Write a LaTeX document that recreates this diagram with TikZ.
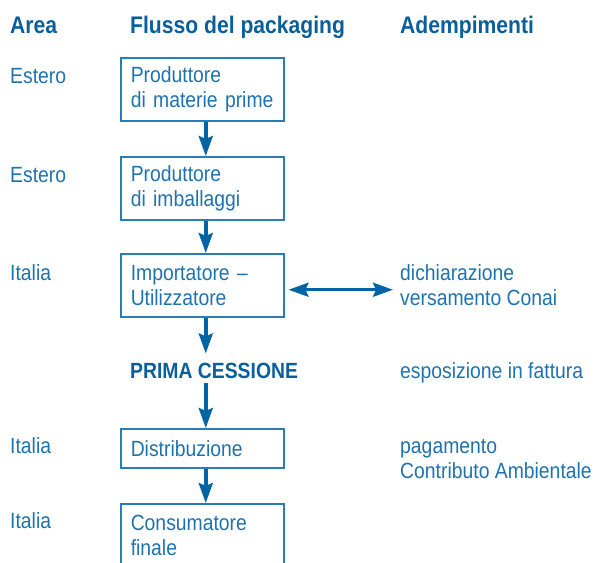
\documentclass[tikz,border=0pt]{standalone}
\usepackage{fontspec}
\setmainfont{Liberation Sans}[FakeStretch=0.88]
\usetikzlibrary{arrows.meta,positioning}

\definecolor{txtblue}{RGB}{30,115,175}
\definecolor{hdblue}{RGB}{10,95,155}
\definecolor{arrblue}{RGB}{0,100,165}
\definecolor{boxblue}{RGB}{40,125,185}

\tikzset{
	flowtip/.tip={Stealth[length=20pt,width=14pt,inset=3pt]},
	box/.style={draw=boxblue, line width=1.5pt, text=txtblue, text width=143pt, inner xsep=10pt,
		minimum height=63pt, align=left, anchor=north west},
	lbl/.style={anchor=base west, inner sep=0pt, text=txtblue, align=left},
	head/.style={anchor=base west, inner sep=0pt, text=hdblue, font=\bfseries\fontsize{24}{28}\selectfont},
	flow/.style={-flowtip, line width=3.5pt, draw=arrblue},
	both/.style={flowtip-flowtip, line width=3pt, draw=arrblue},
}

\begin{document}
\begin{tikzpicture}[x=1pt, y=-1pt, every node/.style={font=\fontsize{22}{25}\selectfont}]
	\useasboundingbox (0,0) rectangle (596,562);
	\clip (0,0) rectangle (596,562);
	% intestazioni
	\node[head] (hArea) at (10,33) {Area};
	\node[head] (hFlusso) at (130,33) {Flusso del packaging};
	\node[head] (hAdemp) at (400,33) {Adempimenti};
	% flusso
	\node[box] (prod) at (120,57) {Produttore\\di materie prime};
	\node[box] (imb) at (120,156) {Produttore\\di imballaggi};
	\node[box] (imp) at (120,253) {Importatore --\\Utilizzatore};
	\node[anchor=base west, inner sep=0pt, text=hdblue, font=\bfseries\fontsize{22}{25}\selectfont] (prima) at (130,378) {PRIMA CESSIONE};
	\node[box, minimum height=39pt] (distr) at (120,428) {Distribuzione};
	\node[box] (cons) at (120,503) {Consumatore\\finale};
	% area
	\node[lbl] (a1) at (10,83) {Estero};
	\node[lbl] (a2) at (10,182) {Estero};
	\node[lbl] (a3) at (10,280) {Italia};
	\node[lbl] (a4) at (10,453) {Italia};
	\node[lbl] (a5) at (10,528) {Italia};
	% adempimenti (base = ultima riga)
	\node[lbl] (conai) at (400,305) {dichiarazione\\versamento Conai};
	\node[lbl] (fattura) at (400,378) {esposizione in fattura};
	\node[lbl] (contrib) at (400,478) {pagamento\\Contributo Ambientale};
	% frecce
	\draw[flow] ([xshift=3.5pt]prod.south) -- ([xshift=3.5pt]imb.north);
	\draw[flow] ([xshift=3.5pt]imb.south) -- ([xshift=3.5pt]imp.north);
	\draw[flow, shorten >=9pt] ([xshift=3.5pt]imp.south) -- ([xshift=3.5pt]imp.south |- prima.north);
	\draw[flow, shorten <=5pt] ([xshift=3.5pt]imp.south |- prima.south) -- ([xshift=3.5pt]distr.north);
	\draw[flow] ([xshift=3.5pt]distr.south) -- ([xshift=3.5pt]cons.north);
	\draw[both] ([xshift=4pt,yshift=-4.5pt]imp.east) -- ([xshift=-7pt,yshift=-4.5pt]imp.east -| conai.west);
\end{tikzpicture}
\end{document}
